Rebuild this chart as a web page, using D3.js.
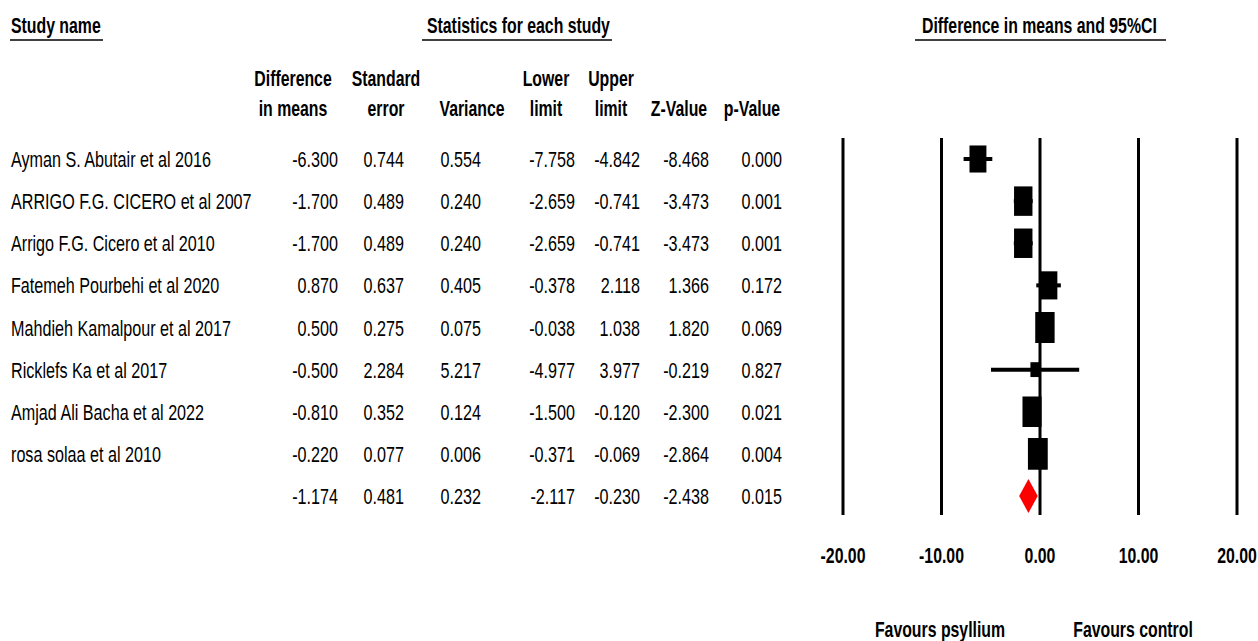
<!DOCTYPE html>
<html>
<head>
<meta charset="utf-8">
<script src="https://cdn.jsdelivr.net/npm/d3@7"></script>
<style>
  body { margin: 0; background: #fff; }
  svg { display: block; }
  text { fill: #000; }
</style>
</head>
<body>
<svg id="plot" width="1258" height="641"></svg>
<script>
// data
var studies = ["Ayman S. Abutair et al 2016", "ARRIGO F.G. CICERO et al 2007", "Arrigo F.G. Cicero et al 2010",
  "Fatemeh Pourbehi et al 2020", "Mahdieh Kamalpour et al 2017", "Ricklefs Ka et al 2017",
  "Amjad Ali Bacha et al 2022", "rosa solaa et al 2010"];
var diffs = [-6.300, -1.700, -1.700, 0.870, 0.500, -0.500, -0.810, -0.220];
var stdErr = [0.744, 0.489, 0.489, 0.637, 0.275, 2.284, 0.352, 0.077];
var variance = [0.554, 0.240, 0.240, 0.405, 0.075, 5.217, 0.124, 0.006];
var lower = [-7.758, -2.659, -2.659, -0.378, -0.038, -4.977, -1.500, -0.371];
var upper = [-4.842, -0.741, -0.741, 2.118, 1.038, 3.977, -0.120, -0.069];
var zVal = [-8.468, -3.473, -3.473, 1.366, 1.820, -0.219, -2.300, -2.864];
var pVal = [0.000, 0.001, 0.001, 0.172, 0.069, 0.827, 0.021, 0.004];

// pooled (random effects) row
var summary = { diff: -1.174, se: 0.481, v: 0.232, lo: -2.117, hi: -0.230, z: -2.438, p: 0.015 };

var xTicks = [-20, -10, 0, 10, 20];
var tau2 = 1.46; // between-study variance, used for box weights

var svg = d3.select("#plot");

// the original uses a tall condensed font: squeeze Liberation Sans to the same widths
var fam = "'Liberation Sans', Arial, sans-serif";
var fsize = 22;
function measure(s, bold) {
  var p = svg.append("text").style("font-family", fam).style("font-size", fsize + "px")
    .style("font-weight", bold ? "bold" : "normal").text(s);
  var w = p.node().getComputedTextLength();
  p.remove();
  return w;
}
var sqReg = 200 / measure("Ayman S. Abutair et al 2016", false);
var sqBold = 183 / measure("Statistics for each study", true);

function txt(x, y, s, bold, anchor) {
  return svg.append("text")
    .attr("transform", "translate(" + x + "," + y + ") scale(" + (bold ? sqBold : sqReg) + ",1)")
    .attr("text-anchor", anchor || "start")
    .style("font-family", fam)
    .style("font-size", fsize + "px")
    .style("font-weight", bold ? "bold" : "normal")
    .text(s);
}

var rowY = d3.scaleLinear().domain([0, 8]).range([159, 496]);
var x = d3.scaleLinear().domain([-20, 20]).range([843, 1237]);

// section titles with underlines
var titles = [
  { s: "Study name", x: 11, x1: 10, x2: 103 },
  { s: "Statistics for each study", x: 427, x1: 422, x2: 612 },
  { s: "Difference in means and 95%CI", x: 922, x1: 915, x2: 1166 }
];
titles.forEach(function (t) {
  txt(t.x, 33, t.s, true);
  svg.append("line").attr("x1", t.x1).attr("x2", t.x2).attr("y1", 40).attr("y2", 40)
    .attr("stroke", "#000").attr("stroke-width", 1.5);
});

// column headers
var cols = [
  { h: ["Difference", "in means"], c: 293, r: 338, key: diffs, s: summary.diff },
  { h: ["Standard", "error"], c: 386, r: 404, key: stdErr, s: summary.se },
  { h: ["", "Variance"], c: 472, r: 481, key: variance, s: summary.v },
  { h: ["Lower", "limit"], c: 546, r: 575, key: lower, s: summary.lo },
  { h: ["Upper", "limit"], c: 611, r: 640, key: upper, s: summary.hi },
  { h: ["", "Z-Value"], c: 679, r: 709, key: zVal, s: summary.z },
  { h: ["", "p-Value"], c: 752, r: 782, key: pVal, s: summary.p }
];
cols.forEach(function (c) {
  if (c.h[0]) txt(c.c, 86, c.h[0], true, "middle");
  txt(c.c, 116, c.h[1], true, "middle");
});

var fmt = function (v) { return d3.format(".3f")(v).replace("−", "-"); };
studies.forEach(function (name, i) {
  var y = rowY(i) + 8;
  txt(11, y, name, false);
  cols.forEach(function (c) {
    txt(c.r, y, fmt(c.key[i]), false, "end");
  });
});
cols.forEach(function (c) {
  txt(c.r, rowY(8) + 8, fmt(c.s), false, "end");
});

// vertical reference lines
svg.append("g").selectAll("line").data(xTicks).enter().append("line")
  .attr("x1", function (d) { return x(d); })
  .attr("x2", function (d) { return x(d); })
  .attr("y1", 138).attr("y2", 515)
  .attr("stroke", "#000").attr("stroke-width", 3);

// axis labels
xTicks.forEach(function (d) {
  txt(x(d), 563, d3.format(".2f")(d).replace("−", "-"), true, "middle");
});

// CI lines and boxes
var wts = variance.map(function (v) { return 1 / (v + tau2); });
var g = svg.append("g");
studies.forEach(function (name, i) {
  var y = rowY(i);
  g.append("line")
    .attr("x1", x(lower[i])).attr("x2", x(upper[i]))
    .attr("y1", y).attr("y2", y)
    .attr("stroke", "#000").attr("stroke-width", 4);
  var bw = 24 * Math.sqrt(wts[i]);
  var bh = bw * 1.6;
  g.append("rect")
    .attr("x", x(diffs[i]) - bw / 2).attr("y", y - bh / 2)
    .attr("width", bw).attr("height", bh)
    .attr("fill", "#000");
});

// summary diamond
var sy = rowY(8);
svg.append("path")
  .attr("d", "M" + x(summary.lo) + "," + sy +
    "L" + x(summary.diff) + "," + (sy - 17) +
    "L" + x(summary.hi) + "," + sy +
    "L" + x(summary.diff) + "," + (sy + 17) + "Z")
  .attr("fill", "#ff0000");

txt(940, 637, "Favours psyllium", true, "middle");
txt(1133, 637, "Favours control", true, "middle");
</script>
</body>
</html>
